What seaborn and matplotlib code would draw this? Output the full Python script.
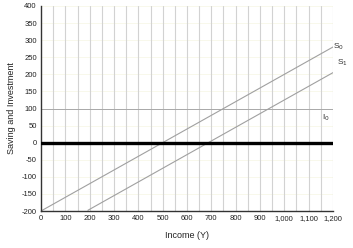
import matplotlib
matplotlib.use("Agg")
import matplotlib.pyplot as plt
import seaborn as sns
import numpy as np
import pandas as pd

income = [0, 1200]
s0_intercept = -200
s1_intercept = -275
mps = 0.4
investment = 100
x_ticks = list(range(0, 1201, 100))
y_ticks = list(range(-200, 401, 50))

sns.set_theme(style="white")
plt.rcParams['font.family'] = ['Liberation Sans', 'DejaVu Sans']
plt.rcParams['axes.unicode_minus'] = False

fig = plt.figure(figsize=(3.53, 2.48), dpi=100)
ax = fig.add_axes([41/353, 1-211/248, (333-41)/353, (211-6)/248])

# grids
for y in y_ticks:
    ax.axhline(y, color="#f7f7e8", lw=0.6, zorder=0)
for x in range(50, 1201, 50):
    ax.axvline(x, color="#d2d2d2", lw=0.8, zorder=0)

xs = np.linspace(0, 1200, 200)
s0 = s0_intercept + mps * xs
s1 = s1_intercept + mps * xs
df = pd.DataFrame({"Y": np.concatenate([xs, xs]),
                   "S": np.concatenate([s0, s1]),
                   "curve": ["S0"] * len(xs) + ["S1"] * len(xs)})
df = df[df["S"] >= -200]
sns.lineplot(data=df, x="Y", y="S", units="curve", estimator=None,
             color="#a0a0a0", lw=0.8, ax=ax, legend=False)

ax.axhline(investment, color="#a8a8a8", lw=0.7, zorder=1)
ax.axhline(0, color="black", lw=2.4, zorder=3)

ax.text(1200, s0_intercept + mps * 1200, "S$_0$", fontsize=6, ha="left", va="center", color="#333333")
ax.text(1215, s1_intercept + mps * 1200 + 28, "S$_1$", fontsize=6, ha="left", va="center", color="#333333")
ax.text(1155, investment - 12, "I$_0$", fontsize=6, ha="left", va="top", color="#333333")

ax.set_xlim(0, 1200)
ax.set_ylim(-200, 400)
ax.set_xticks(x_ticks)
ax.set_xticklabels([f"{v:,}" for v in x_ticks])
ax.set_yticks(y_ticks)
ax.set_yticklabels([str(v) for v in y_ticks])
ax.tick_params(labelsize=5.5, length=0, pad=3, colors="#222222")
for side in ["top", "right"]:
    ax.spines[side].set_visible(False)
for side in ["left", "bottom"]:
    ax.spines[side].set_color("#333333")
    ax.spines[side].set_linewidth(1.0)
ax.set_xlabel("Income (Y)", fontsize=6.5, labelpad=6, color="#222222")
ax.set_ylabel("Saving and Investment", fontsize=6.5, labelpad=4, color="#222222")

fig.savefig("out.png", dpi=100)
